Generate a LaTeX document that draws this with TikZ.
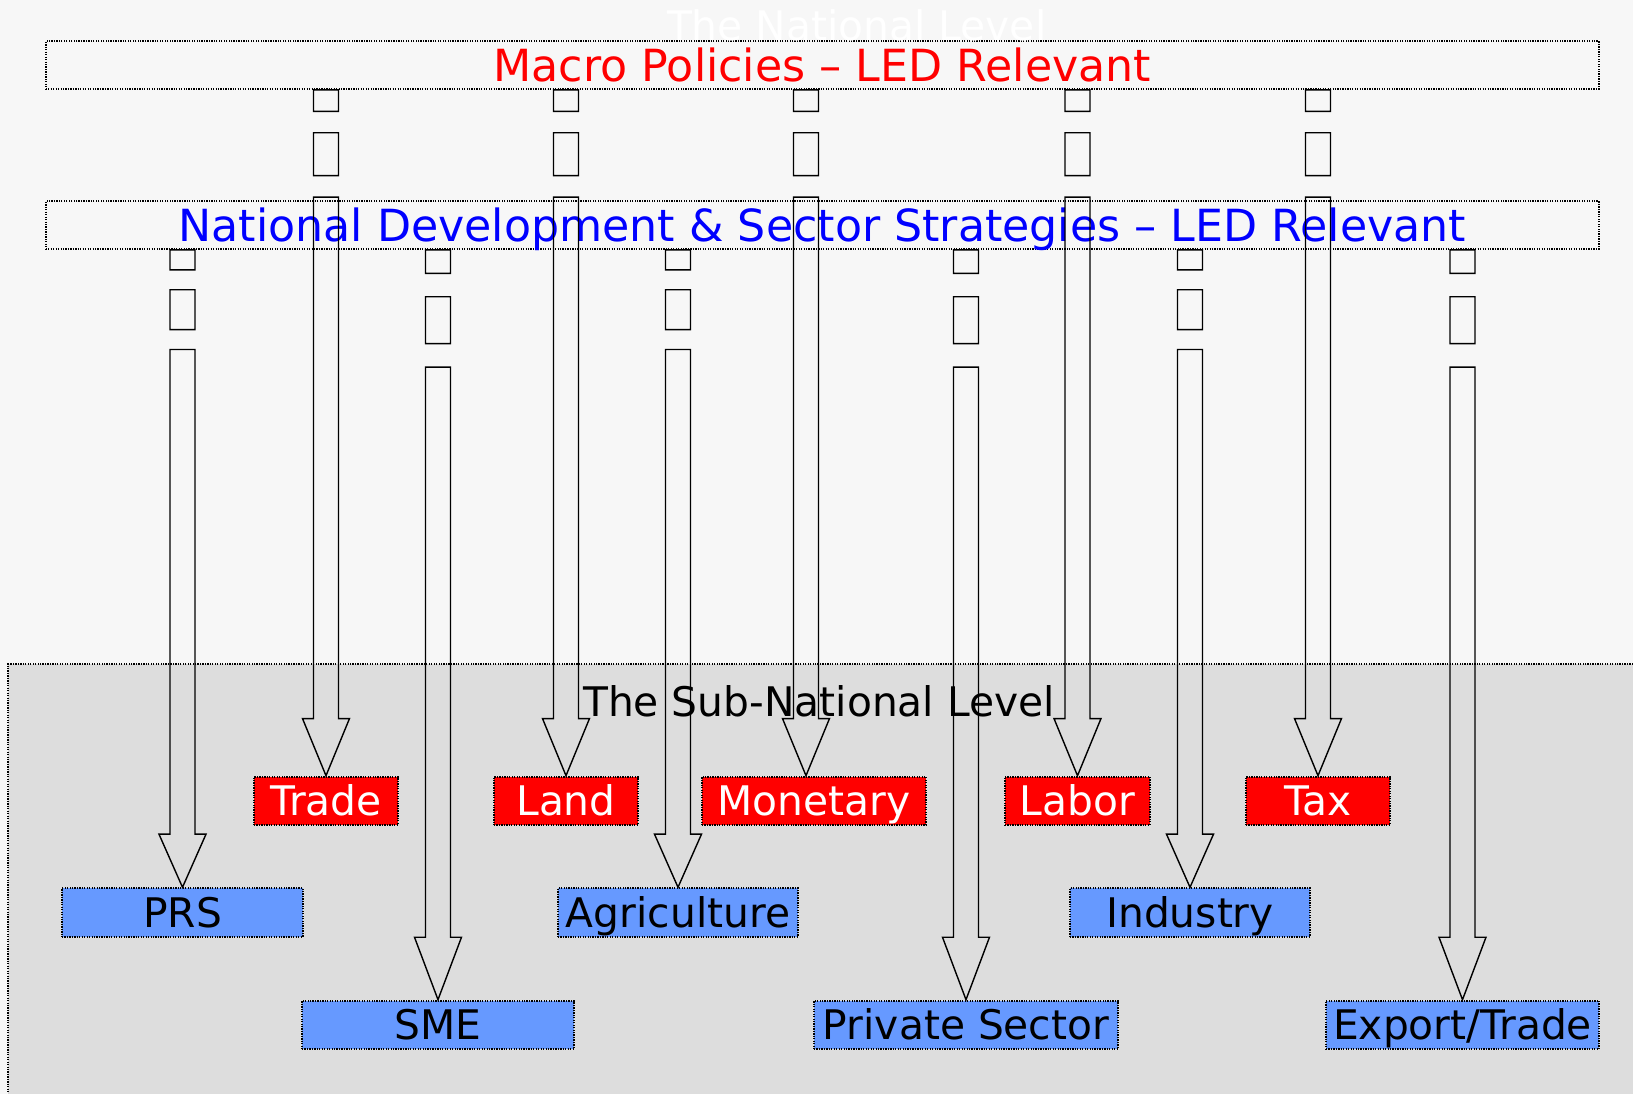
\documentclass[tikz,border=0pt]{standalone}
\usepackage{fontspec}
\setmainfont{DejaVu Sans}
\usetikzlibrary{calc}
\definecolor{fonsClar}{RGB}{247,247,247}
\definecolor{grisSubnacional}{RGB}{221,221,221}
\definecolor{blauCaixa}{RGB}{102,153,255}
\definecolor{vermellPur}{RGB}{255,0,0}
\definecolor{blauTitol}{RGB}{0,0,255}
\tikzstyle{voraPuntejada} = [draw=black, line width=0.6pt, dash pattern=on 0.35pt off 0.35pt]
\tikzstyle{caixaTitol} = [rectangle, voraPuntejada, minimum width=15.53cm, minimum height=0.475cm, inner sep=0, text height=9.2pt, text depth=0pt, font=\fontsize{12.6}{14}\selectfont]
\tikzstyle{caixaVermella} = [rectangle, voraPuntejada, fill=vermellPur, text=white, minimum height=0.483cm, inner sep=0, text height=8.5pt, text depth=0pt, font=\fontsize{11.6}{13}\selectfont]
\tikzstyle{caixaBlava} = [rectangle, voraPuntejada, fill=blauCaixa, text=black, minimum height=0.483cm, inner sep=0, text height=8.5pt, text depth=0pt, font=\fontsize{11.6}{13}\selectfont]
\tikzstyle{textNivell} = [anchor=base, inner sep=0, font=\fontsize{11.6}{13}\selectfont]
\tikzstyle{fletxa} = [draw=black, line width=0.4pt, line join=miter]

% fletxa ratllada: #1 dona l'altura d'inici, #2 la punta
\newcommand{\fletxaRatllada}[2]{%
	\draw [fletxa] let \p1=(#1), \p2=(#2), \n1={(\y1-\y2)/32}, \n2={(\y1-\y2)/12} in
		(\x2-0.125cm,\y1) rectangle (\x2+0.125cm,\y1-\n1)
		(\x2-0.125cm,\y1-2*\n1) rectangle (\x2+0.125cm,\y1-4*\n1)
		(\x2-0.125cm,\y1-5*\n1) -- (\x2-0.125cm,\y2+\n2) -- (\x2-0.235cm,\y2+\n2) -- (\x2,\y2)
		-- (\x2+0.235cm,\y2+\n2) -- (\x2+0.125cm,\y2+\n2) -- (\x2+0.125cm,\y1-5*\n1) -- cycle;
}

\begin{document}
\begin{tikzpicture}[node distance=2cm]
	
	\useasboundingbox (0,0) rectangle (16.33,-10.94);
	\fill [fonsClar] (0,0) rectangle (16.33,-10.94);
	
	% Zona subnacional
	\fill [grisSubnacional] (0.083,-6.64) rectangle (16.33,-10.94);
	\draw [voraPuntejada] (16.33,-6.64) -- (0.083,-6.64) -- (0.083,-10.94);
	
	
	% Definició de nodes
	
	\node (macro) [caixaTitol, text=vermellPur] at (8.223,-0.651) {Macro Policies -- LED Relevant};
	\node (nacional) [caixaTitol, text=blauTitol, below of=macro, yshift=.4cm] {National Development \& Sector Strategies -- LED Relevant};
	
	\node (nivellNacional) [textNivell, text=white, above of=macro, xshift=.344cm, yshift=-1.749cm, anchor=base] {The National Level};
	\node (nivellSubnacional) [textNivell, text=black, below of=nacional, xshift=-.033cm, yshift=-2.909cm, anchor=base] {The Sub-National Level};
	
	%caixes vermelles (polítiques macro)
	\node (comerc) [caixaVermella, minimum width=1.44cm, below of=nacional, xshift=-4.963cm, yshift=-3.758cm] {Trade};
	\node (terra) [caixaVermella, minimum width=1.44cm, right of=comerc, xshift=.4cm] {Land};
	\node (monetaria) [caixaVermella, minimum width=2.24cm, right of=terra, xshift=.48cm] {Monetary};
	\node (treball) [caixaVermella, minimum width=1.45cm, right of=monetaria, xshift=.635cm] {Labor};
	\node (impostos) [caixaVermella, minimum width=1.44cm, right of=treball, xshift=.405cm] {Tax};
	
	%caixes blaves (estratègies sectorials)
	\node (prs) [caixaBlava, minimum width=2.41cm, below of=comerc, xshift=-1.435cm, yshift=.884cm] {PRS};
	\node (agricultura) [caixaBlava, minimum width=2.40cm, right of=prs, xshift=2.955cm] {Agriculture};
	\node (industria) [caixaBlava, minimum width=2.40cm, right of=agricultura, xshift=3.12cm] {Industry};
	
	\node (pime) [caixaBlava, minimum width=2.72cm, below of=prs, xshift=2.555cm, yshift=.876cm] {SME};
	\node (privat) [caixaBlava, minimum width=3.04cm, right of=pime, xshift=3.28cm] {Private Sector};
	\node (exportacio) [caixaBlava, minimum width=2.73cm, right of=privat, xshift=2.965cm] {Export/Trade};
	
	
	% Fletxes entre els nodes
	\fletxaRatllada{macro.south}{comerc.north}
	\fletxaRatllada{macro.south}{terra.north}
	\fletxaRatllada{macro.south}{[xshift=-.08cm]monetaria.north}
	\fletxaRatllada{macro.south}{treball.north}
	\fletxaRatllada{macro.south}{impostos.north}
	
	\fletxaRatllada{nacional.south}{prs.north}
	\fletxaRatllada{nacional.south}{agricultura.north}
	\fletxaRatllada{nacional.south}{industria.north}
	\fletxaRatllada{nacional.south}{pime.north}
	\fletxaRatllada{nacional.south}{privat.north}
	\fletxaRatllada{nacional.south}{exportacio.north}
	
\end{tikzpicture}
\end{document}
